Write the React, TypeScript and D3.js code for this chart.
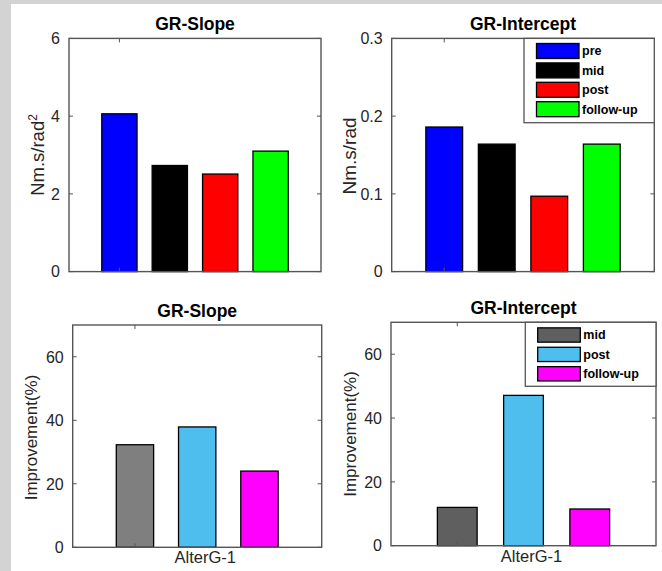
import React from "react";
import * as d3 from "d3";

const phases = ["pre", "mid", "post", "follow-up"];
const phaseColors = ["#0000ff", "#000000", "#ff0000", "#00ff00"];
const slopeValues = [4.06, 2.73, 2.51, 3.1];
const interceptValues = [0.186, 0.164, 0.097, 0.164];
const slopeTicks = [0, 2, 4, 6];
const interceptTicks = [0, 0.1, 0.2, 0.3];

const improvementPhases = ["mid", "post", "follow-up"];
const slopeImprovementColors = ["#7f7f7f", "#4dbeee", "#ff00ff"];
const interceptImprovementColors = ["#5f5f5f", "#4dbeee", "#ff00ff"];
const slopeImprovement = [32.3, 37.9, 24.0];
const interceptImprovement = [12.0, 47.1, 11.5];
const improvementTicks = [0, 20, 40, 60];
const groupLabel = "AlterG-1";

const FONT = "'Liberation Sans', Arial, Helvetica, sans-serif";
const AX = "#555555";
const TXT = "#262626";

type PanelProps = {
  box: { left: number; right: number; top: number; bottom: number };
  values: number[];
  colors: string[];
  labels: string[];
  xDomain: [number, number];
  barWidth: number;
  yDomain: [number, number];
  ticks: number[];
  tickFmt: (v: number) => string;
  title: string;
  titleY: number;
  ylabel: React.ReactNode;
  ylabelX: number;
  ylabelY: number;
  ylabelSize: number;
  xlabel?: string;
  legend?: { left: number; bottom: number; swX: number; swW: number; swH: number; firstY: number; step: number };
};

function Panel(p: PanelProps) {
  const { box } = p;
  const x = d3.scaleLinear().domain(p.xDomain).range([box.left, box.right]);
  const y = d3.scaleLinear().domain(p.yDomain).range([box.bottom, box.top]);
  const cx = (box.left + box.right) / 2;
  const tickLen = 4;
  return (
    <g>
      <rect x={box.left} y={box.top} width={box.right - box.left} height={box.bottom - box.top} fill="#fff" />
      {p.values.map((v, i) => (
        <rect
          key={i}
          x={x(i + 1 - p.barWidth / 2)}
          y={y(v)}
          width={x(i + 1 + p.barWidth / 2) - x(i + 1 - p.barWidth / 2)}
          height={y(0) - y(v)}
          fill={p.colors[i]}
          stroke="#000"
          strokeWidth={1.3}
        />
      ))}
      {/* axes frame */}
      <rect x={box.left} y={box.top} width={box.right - box.left} height={box.bottom - box.top} fill="none" stroke={AX} strokeWidth={1.4} />
      {p.ticks.map((t, i) => (
        <g key={i}>
          <line x1={box.left} x2={box.left + tickLen} y1={y(t)} y2={y(t)} stroke={AX} />
          <line x1={box.right} x2={box.right - tickLen} y1={y(t)} y2={y(t)} stroke={AX} />
          <text x={box.left - 9} y={y(t)} dy="0.36em" textAnchor="end" fontSize={16} fill={TXT} fontFamily={FONT}>
            {p.tickFmt(t)}
          </text>
        </g>
      ))}
      <line x1={x(1)} x2={x(1)} y1={box.top} y2={box.top + tickLen} stroke={AX} />
      <line x1={x(1)} x2={x(1)} y1={box.bottom} y2={box.bottom - tickLen} stroke={AX} />
      <text x={cx} y={p.titleY} textAnchor="middle" fontSize={17.5} fontWeight="bold" fill="#000" fontFamily={FONT}>
        {p.title}
      </text>
      <text
        transform={`translate(${p.ylabelX},${p.ylabelY}) rotate(-90)`}
        textAnchor="middle"
        fontSize={p.ylabelSize}
        fill={TXT}
        fontFamily={FONT}
      >
        {p.ylabel}
      </text>
      {p.xlabel && (
        <text x={cx + 8} y={box.bottom + 16} textAnchor="middle" fontSize={16.5} fill={TXT} fontFamily={FONT}>
          {p.xlabel}
        </text>
      )}
      {p.legend && (
        <g>
          <rect
            x={p.legend.left}
            y={box.top}
            width={box.right - p.legend.left}
            height={p.legend.bottom - box.top}
            fill="#fff"
            stroke={AX}
            strokeWidth={1.3}
          />
          {p.labels.map((lab, i) => {
            const cy = p.legend!.firstY + i * p.legend!.step;
            return (
              <g key={lab}>
                <rect
                  x={p.legend!.swX}
                  y={cy - p.legend!.swH / 2}
                  width={p.legend!.swW}
                  height={p.legend!.swH}
                  fill={p.colors[i]}
                  stroke="#000"
                  strokeWidth={1.3}
                />
                <text
                  x={p.legend!.swX + p.legend!.swW + 3}
                  y={cy}
                  dy="0.35em"
                  fontSize={12.5}
                  fontWeight="bold"
                  fill="#000"
                  fontFamily={FONT}
                >
                  {lab}
                </text>
              </g>
            );
          })}
        </g>
      )}
    </g>
  );
}

export default function App() {
  return (
    <svg width={662} height={571} style={{ position: "absolute", left: 0, top: 0 }}>
      <rect x={0} y={0} width={662} height={571} fill="#fff" />
      <rect x={0} y={0} width={662} height={4} fill="#d3d3d3" />
      <rect x={0} y={0} width={11} height={571} fill="#d3d3d3" />
      <Panel
        box={{ left: 69, right: 321, top: 38.4, bottom: 271.6 }}
        values={slopeValues}
        colors={phaseColors}
        labels={phases}
        xDomain={[0, 5]}
        barWidth={0.7}
        yDomain={[0, 6]}
        ticks={slopeTicks}
        tickFmt={(v) => d3.format("d")(v)}
        title="GR-Slope"
        titleY={30}
        ylabel={
          <>
            Nm.s/rad
            <tspan fontSize={12} dy={-7}>
              2
            </tspan>
          </>
        }
        ylabelX={43.5}
        ylabelY={155}
        ylabelSize={18.5}
      />
      <Panel
        box={{ left: 391.7, right: 654.3, top: 38.4, bottom: 271.6 }}
        values={interceptValues}
        colors={phaseColors}
        labels={phases}
        xDomain={[0, 5]}
        barWidth={0.7}
        yDomain={[0, 0.3]}
        ticks={interceptTicks}
        tickFmt={(v) => (v === 0 ? "0" : d3.format(".1f")(v))}
        title="GR-Intercept"
        titleY={29.5}
        ylabel="Nm.s/rad"
        ylabelX={356}
        ylabelY={156}
        ylabelSize={19}
        legend={{ left: 524, bottom: 122.7, swX: 536.5, swW: 42.5, swH: 15, firstY: 51, step: 19.4 }}
      />
      <Panel
        box={{ left: 72.7, right: 321.7, top: 325, bottom: 547.3 }}
        values={slopeImprovement}
        colors={slopeImprovementColors}
        labels={improvementPhases}
        xDomain={[0, 4]}
        barWidth={0.6}
        yDomain={[0, 70]}
        ticks={improvementTicks}
        tickFmt={(v) => d3.format("d")(v)}
        title="GR-Slope"
        titleY={316.5}
        ylabel="Improvement(%)"
        ylabelX={36.5}
        ylabelY={437.5}
        ylabelSize={17}
        xlabel={groupLabel}
      />
      <Panel
        box={{ left: 391, right: 656, top: 322.3, bottom: 545.7 }}
        values={interceptImprovement}
        colors={interceptImprovementColors}
        labels={improvementPhases}
        xDomain={[0, 4]}
        barWidth={0.6}
        yDomain={[0, 70]}
        ticks={improvementTicks}
        tickFmt={(v) => d3.format("d")(v)}
        title="GR-Intercept"
        titleY={314}
        ylabel="Improvement(%)"
        ylabelX={356}
        ylabelY={434}
        ylabelSize={17}
        xlabel={groupLabel}
        legend={{ left: 525.3, bottom: 386.3, swX: 537.7, swW: 42.6, swH: 14.3, firstY: 335, step: 19.4 }}
      />
    </svg>
  );
}
